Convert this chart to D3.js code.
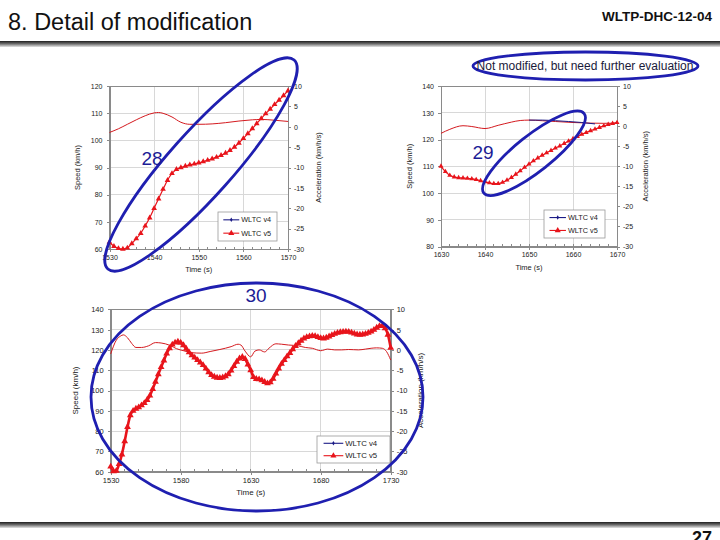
<!DOCTYPE html>
<html lang="en">
<head>
<meta charset="UTF-8"/>
<title>8. Detail of modification</title>
<script src="https://d3js.org/d3.v7.min.js"></script>
<style>
  body { margin: 0; background: #fff; }
  svg { display: block; font-family: Arial, "Liberation Sans", sans-serif; }
  .axis path, .axis line { stroke: #8a8a8a; shape-rendering: crispEdges; }
  .axis text { fill: #222; }
  .grid line { stroke: #d8d8d8; shape-rendering: crispEdges; }
  .frame { fill: none; stroke: #8a8a8a; shape-rendering: crispEdges; }
  .minor line { stroke: #8a8a8a; shape-rendering: crispEdges; }
  .ring { fill: none; stroke: #1f1fb0; stroke-width: 2.8; }
  .tag { fill: #1c1c96; font-size: 19px; }
  .atitle { fill: #222; }
</style>
</head>
<body>
<script>
// ---- data ----
// chart 28: WLTC v5 speed (km/h), one value per second from 1530 s
const c28Start = 1530
const c28Speed = [62.5, 61.0, 60.2, 60.0, 60.4, 62.0, 63.8, 65.8, 68.5, 71.5,
                  75.0, 78.5, 82.0, 85.3, 87.8, 89.3, 90.0, 90.5, 91.0, 91.3,
                  91.7, 92.2, 92.7, 93.2, 93.8, 94.5, 95.3, 96.3, 97.5, 99.0,
                  100.7, 102.5, 104.3, 106.2, 108.0, 109.8, 111.5, 113.2, 114.8, 116.5,
                  118.2]
// chart 28: acceleration (km/h/s)
const c28AccTime = [1530, 1532, 1534, 1536, 1538, 1540, 1541, 1542, 1544, 1546,
                    1548, 1550, 1553, 1556, 1559, 1562, 1564, 1567, 1570]
const c28Acc     = [-1.4, -0.5, 0.6, 1.7, 2.7, 3.4, 3.5, 3.3, 2.4, 1.1,
                    0.6, 0.6, 0.7, 1.0, 1.4, 1.7, 1.8, 1.6, 1.3]

// chart 29: WLTC v5 speed (km/h), one value per second from 1630 s
const c29Start = 1630
const c29Speed = [110.0, 108.0, 106.6, 106.0, 105.7, 105.6, 105.5, 105.3, 105.0, 104.6,
                  104.2, 103.8, 103.5, 103.5, 104.0, 104.8, 105.8, 107.0, 108.3, 109.6,
                  110.8, 112.0, 113.1, 114.1, 115.0, 115.9, 116.8, 117.6, 118.5, 119.4,
                  120.3, 121.1, 121.9, 122.6, 123.3, 123.9, 124.5, 125.1, 125.6, 126.0,
                  126.3]
const c29AccTime = [1630, 1632, 1635, 1637, 1640, 1643, 1646, 1648, 1650, 1653,
                    1656, 1660, 1664, 1667, 1670]
const c29Acc     = [-1.8, -0.8, 0.1, -0.1, -0.6, 0.2, 1.0, 1.4, 1.5, 1.35,
                    1.15, 0.9, 0.75, 0.7, 0.75]
// chart 29: WLTC v4 acceleration where it separates from v5
const c29V4AccTime = [1650, 1653, 1656, 1659, 1662, 1665]
const c29V4Acc     = [1.5, 1.5, 1.35, 1.15, 0.9, 0.55]

// chart 30: WLTC v5 speed (km/h), one value every 2 s from 1530 s
const c30Start = 1530
const c30Speed = [62.5, 60.2, 60.4, 63.8, 68.5, 75.0, 82.0, 87.8, 90.0, 91.0,
                  91.7, 92.7, 93.8, 95.3, 97.5, 100.7, 104.3, 108.0, 111.5, 114.8,
                  118.2, 120.8, 122.6, 123.6, 124.0, 123.5, 122.3, 120.6, 118.8, 117.3,
                  116.2, 115.0, 113.8, 112.5, 110.8, 109.0, 107.6, 106.8, 106.3, 106.2,
                  106.4, 107.0, 108.0, 109.8, 112.0, 114.2, 115.8, 116.5, 115.5, 112.8,
                  110.0, 106.6, 105.7, 105.5, 105.0, 104.2, 103.5, 104.0, 105.8, 108.3,
                  110.8, 113.1, 115.0, 116.8, 118.5, 120.3, 121.9, 123.3, 124.5, 125.6,
                  126.3, 126.7, 126.9, 126.8, 126.3, 125.8, 125.6, 126.0, 126.6, 127.3,
                  127.9, 128.4, 128.7, 128.9, 129.0, 128.9, 128.5, 128.0, 127.6, 127.5,
                  127.6, 127.9, 128.4, 129.0, 129.9, 130.9, 131.7, 131.8, 130.6, 127.5,
                  121.0]
const c30AccTime = [1530, 1534, 1537, 1539, 1542, 1545, 1548, 1552, 1557, 1562,
                    1566, 1569, 1573, 1577, 1582, 1588, 1595, 1601, 1608, 1616,
                    1621, 1623, 1626, 1630, 1633, 1636, 1640, 1643, 1648, 1652,
                    1657, 1664, 1669, 1674, 1680, 1685, 1690, 1695, 1700, 1707,
                    1712, 1716, 1720, 1724, 1727, 1730]
const c30Acc     = [-1.0, 2.4, 3.4, 3.7, 3.0, 1.6, 0.6, 0.6, 1.0, 1.8,
                    1.7, 1.5, 1.0, 0.3, -0.2, -0.7, -0.8, -0.4, 0.1, 0.8,
                    1.4, 1.2, -0.3, -1.7, -0.3, 0.0, -0.5, 0.4, 1.5, 1.4,
                    1.2, 1.0, 0.6, 0.4, -0.2, 0.2, 0.0, 0.0, 0.1, 0.0,
                    0.2, 0.4, 0.5, 0.4, -0.4, -2.5]

const legendNames = ["WLTC v4", "WLTC v5"]
const accTicks = [-30, -25, -20, -15, -10, -5, 0, 5, 10]

// ---- look ----
const red = "#e8141b"
const navy = "#1b1b86"

const charts = [
  { x0: 109.5, x1: 288, y0: 86, y1: 249, font: 7,
    tTicks: [1530, 1540, 1550, 1560, 1570], minor: 2,
    vTicks: [60, 70, 80, 90, 100, 110, 120],
    speed: c28Speed, start: c28Start, step: 1, sym: 14, sw: 1.2,
    accT: c28AccTime, acc: c28Acc,
    legend: { x: 218, y: 212, w: 59, h: 29 },
    leftT: 77, rightT: 318, timeY: 269 },
  { x0: 441, x1: 617, y0: 86, y1: 246.5, font: 7,
    tTicks: [1630, 1640, 1650, 1660, 1670], minor: 2,
    vTicks: [80, 90, 100, 110, 120, 130, 140],
    speed: c29Speed, start: c29Start, step: 1, sym: 11, sw: 1.2,
    accT: c29AccTime, acc: c29Acc, v4T: c29V4AccTime, v4: c29V4Acc,
    legend: { x: 544, y: 210, w: 61, h: 28 },
    leftT: 409, rightT: 645, timeY: 267 },
  { x0: 110.7, x1: 390.7, y0: 309.3, y1: 471.7, font: 7.5,
    tTicks: [1530, 1580, 1630, 1680, 1730], minor: 10,
    vTicks: [60, 70, 80, 90, 100, 110, 120, 130, 140],
    speed: c30Speed, start: c30Start, step: 2, sym: 20, sw: 2.6,
    accT: c30AccTime, acc: c30Acc,
    legend: { x: 317, y: 436, w: 73, h: 27 },
    leftT: 75, rightT: 420, timeY: 492 }
]

const svg = d3.select("body").append("svg")
    .attr("width", 720)
    .attr("height", 540)

// header / footer bars
const defs = svg.append("defs")
const grad = defs.append("linearGradient").attr("id", "bar")
    .attr("x1", 0).attr("y1", 0).attr("x2", 0).attr("y2", 1)
grad.append("stop").attr("offset", 0).attr("stop-color", "#1e1e1e")
grad.append("stop").attr("offset", 0.45).attr("stop-color", "#6a6a6a")
grad.append("stop").attr("offset", 1).attr("stop-color", "#e4e4e4")

svg.append("rect").attr("x", 0).attr("y", 41).attr("width", 720).attr("height", 6).attr("fill", "url(#bar)")
svg.append("rect").attr("x", 0).attr("y", 522).attr("width", 720).attr("height", 6).attr("fill", "url(#bar)")

svg.append("text").attr("x", 8).attr("y", 30)
    .attr("font-size", 23.5).attr("fill", "#111")
    .text("8. Detail of modification")
svg.append("text").attr("x", 712).attr("y", 21).attr("text-anchor", "end")
    .attr("font-size", 13.5).attr("font-weight", "bold").attr("fill", "#111")
    .text("WLTP-DHC-12-04")
// page number sits on the bottom edge, as on the slide
svg.append("text").attr("x", 712).attr("y", 544).attr("text-anchor", "end")
    .attr("font-size", 18).attr("font-weight", "bold").attr("fill", "#111")
    .text("27")

const minus = d => d < 0 ? "-" + (-d) : String(d)

function drawChart(c) {
  const x = d3.scaleLinear().domain([c.tTicks[0], c.tTicks[c.tTicks.length - 1]]).range([c.x0, c.x1])
  const yV = d3.scaleLinear().domain([c.vTicks[0], c.vTicks[c.vTicks.length - 1]]).range([c.y1, c.y0])
  const yA = d3.scaleLinear().domain([accTicks[0], accTicks[accTicks.length - 1]]).range([c.y1, c.y0])
  const g = svg.append("g")

  g.append("rect").attr("x", c.x0).attr("y", c.y0)
      .attr("width", c.x1 - c.x0).attr("height", c.y1 - c.y0).attr("fill", "#fff")

  g.append("g").attr("class", "grid").selectAll("line")
      .data(c.vTicks.slice(1, -1))
      .join("line")
      .attr("x1", c.x0).attr("x2", c.x1)
      .attr("y1", d => yV(d)).attr("y2", d => yV(d))
  g.append("g").attr("class", "grid").selectAll("line")
      .data(c.tTicks.slice(1, -1))
      .join("line")
      .attr("x1", d => x(d)).attr("x2", d => x(d))
      .attr("y1", c.y0).attr("y2", c.y1)

  // small ticks along the time axis
  g.append("g").attr("class", "minor").selectAll("line")
      .data(d3.range(c.tTicks[0], c.tTicks[c.tTicks.length - 1] + 0.01, c.minor))
      .join("line")
      .attr("x1", d => x(d)).attr("x2", d => x(d))
      .attr("y1", c.y1).attr("y2", c.y1 - 2.5)

  const left = g.append("g").attr("class", "axis")
      .attr("transform", `translate(${c.x0},0)`)
      .call(d3.axisLeft(yV).tickValues(c.vTicks).tickSize(3).tickPadding(4).tickFormat(d3.format("d")))
  const right = g.append("g").attr("class", "axis")
      .attr("transform", `translate(${c.x1},0)`)
      .call(d3.axisRight(yA).tickValues(accTicks).tickSize(3).tickPadding(3).tickFormat(minus))
  const bottom = g.append("g").attr("class", "axis")
      .attr("transform", `translate(0,${c.y1})`)
      .call(d3.axisBottom(x).tickValues(c.tTicks).tickSize(3).tickPadding(3).tickFormat(d3.format("d")))
  ;[left, right, bottom].forEach(a => a.attr("font-size", c.font).attr("font-family", null))

  g.append("rect").attr("class", "frame")
      .attr("x", c.x0).attr("y", c.y0)
      .attr("width", c.x1 - c.x0).attr("height", c.y1 - c.y0)

  // acceleration (secondary axis)
  const accLine = d3.line().x(d => x(d.t)).y(d => yA(d.a)).curve(d3.curveMonotoneX)
  const accData = c.accT.map((t, i) => ({ t: t, a: c.acc[i] }))
  g.append("path").datum(accData)
      .attr("d", accLine)
      .attr("fill", "none").attr("stroke", "#d41a1f").attr("stroke-width", 1)
  if (c.v4) {
    const v4Data = c.v4T.map((t, i) => ({ t: t, a: c.v4[i] }))
    g.append("path").datum(v4Data)
        .attr("d", accLine)
        .attr("fill", "none").attr("stroke", navy).attr("stroke-width", 1)
  }

  // speed with triangle markers
  const spData = c.speed.map((v, i) => ({ t: c.start + i * c.step, v: v }))
  g.append("path").datum(spData)
      .attr("d", d3.line().x(d => x(d.t)).y(d => yV(d.v)).curve(d3.curveMonotoneX))
      .attr("fill", "none").attr("stroke", red).attr("stroke-width", c.sw)
  g.append("g").selectAll("path")
      .data(spData)
      .join("path")
      .attr("transform", d => `translate(${x(d.t)},${yV(d.v)})`)
      .attr("d", d3.symbol().type(d3.symbolTriangle).size(c.sym))
      .attr("fill", red)

  // legend
  const L = c.legend
  const lg = g.append("g").attr("transform", `translate(${L.x},${L.y})`)
  lg.append("rect").attr("width", L.w).attr("height", L.h)
      .attr("fill", "#fff").attr("stroke", "#9a9a9a").attr("stroke-width", 0.8)
  const lx0 = L.w * 0.09, lx1 = L.w * 0.36
  legendNames.forEach((name, i) => {
    const ly = L.h * (i === 0 ? 0.27 : 0.73)
    const col = i === 0 ? navy : red
    lg.append("line").attr("x1", lx0).attr("x2", lx1).attr("y1", ly).attr("y2", ly)
        .attr("stroke", col).attr("stroke-width", 1.1)
    lg.append("path")
        .attr("transform", `translate(${(lx0 + lx1) / 2},${ly})`)
        .attr("d", d3.symbol().type(i === 0 ? d3.symbolDiamond : d3.symbolTriangle).size(i === 0 ? 6 : 16))
        .attr("fill", col)
    lg.append("text").attr("x", lx1 + 2).attr("y", ly)
        .attr("dy", "0.35em").attr("font-size", c.font + 0.3).attr("fill", "#222")
        .text(name)
  })

  // axis titles
  const mid = (c.y0 + c.y1) / 2
  g.append("text").attr("class", "atitle")
      .attr("transform", `translate(${c.leftT},${mid}) rotate(-90)`)
      .attr("text-anchor", "middle").attr("dy", "0.35em").attr("font-size", c.font + 0.5)
      .text("Speed (km/h)")
  g.append("text").attr("class", "atitle")
      .attr("transform", `translate(${c.rightT},${mid}) rotate(-90)`)
      .attr("text-anchor", "middle").attr("dy", "0.35em").attr("font-size", c.font + 0.5)
      .text("Acceleration (km/h/s)")
  g.append("text").attr("class", "atitle")
      .attr("x", (c.x0 + c.x1) / 2).attr("y", c.timeY)
      .attr("text-anchor", "middle").attr("dy", "0.35em").attr("font-size", c.font + 0.5)
      .text("Time (s)")
}

charts.forEach(drawChart)

// blue annotation rings and numbers
svg.append("ellipse").attr("class", "ring")
    .attr("transform", "translate(201,164.5) rotate(-48.3)")
    .attr("rx", 140).attr("ry", 32)
svg.append("ellipse").attr("class", "ring")
    .attr("transform", "translate(534,153.3) rotate(-38.4)")
    .attr("rx", 64).attr("ry", 18)
svg.append("ellipse").attr("class", "ring")
    .attr("cx", 257).attr("cy", 397).attr("rx", 166).attr("ry", 114)
svg.append("ellipse").attr("class", "ring")
    .attr("cx", 585.5).attr("cy", 66).attr("rx", 112.5).attr("ry", 14)

svg.append("text").attr("class", "tag").attr("x", 152).attr("y", 165).attr("text-anchor", "middle").text("28")
svg.append("text").attr("class", "tag").attr("x", 483).attr("y", 159).attr("text-anchor", "middle").text("29")
svg.append("text").attr("class", "tag").attr("x", 256).attr("y", 302).attr("text-anchor", "middle").text("30")

svg.append("text").attr("x", 585).attr("y", 66).attr("dy", "0.35em")
    .attr("text-anchor", "middle").attr("font-size", 12).attr("fill", "#1a1a3a")
    .text("Not modified, but need further evaluation")
</script>
</body>
</html>
